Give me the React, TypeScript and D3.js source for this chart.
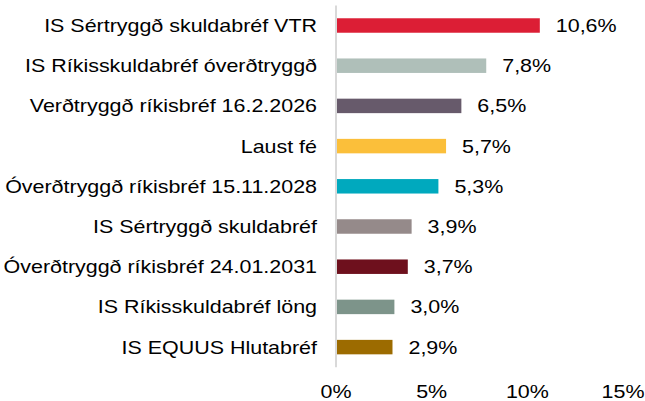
import React from 'react';
import * as d3 from 'd3';

// Categories, top to bottom
const categories = [
  'IS Sértryggð skuldabréf VTR',
  'IS Ríkisskuldabréf óverðtryggð',
  'Verðtryggð ríkisbréf 16.2.2026',
  'Laust fé',
  'Óverðtryggð ríkisbréf 15.11.2028',
  'IS Sértryggð skuldabréf',
  'Óverðtryggð ríkisbréf 24.01.2031',
  'IS Ríkisskuldabréf löng',
  'IS EQUUS Hlutabréf',
];
const values = [10.6, 7.8, 6.5, 5.7, 5.3, 3.9, 3.7, 3.0, 2.9];
const colors = ['#dc1e35', '#afbfb9', '#675a6b', '#fbbf3a', '#00a9be', '#958a8a', '#6e101d', '#7d948a', '#9c6b00'];
const xTicks = [0, 5, 10, 15];

function App() {
  const svgRef = React.useRef<SVGSVGElement>(null);

  const width = 645;
  const height = 401;
  const font = 'Liberation Sans, Arial, sans-serif';
  const fontSize = 18.5;
  const stretch = 1.16; // the source text is a bit wider than plain Arial

  React.useEffect(() => {
    const xScale = d3.scaleLinear().domain([0, 15]).range([337, 624]);
    const yScale = d3.scaleBand<string>()
      .domain(categories)
      .range([5.4, 367.2])
      .paddingInner(0.64)
      .paddingOuter(0.32);

    const svgEl = d3.select(svgRef.current);
    svgEl.selectAll('*').remove();
    const svg = svgEl.append('g');

    // bars
    svg.selectAll('.bar')
      .data(values)
      .enter()
      .append('rect')
      .attr('x', xScale(0))
      .attr('y', (d, i) => yScale(categories[i])!)
      .attr('width', (d) => xScale(d) - xScale(0))
      .attr('height', yScale.bandwidth())
      .attr('fill', (d, i) => colors[i]);

    // vertical axis line
    svg.append('line')
      .attr('x1', xScale(0) - 1)
      .attr('x2', xScale(0) - 1)
      .attr('y1', 5.4)
      .attr('y2', 367.2)
      .attr('stroke', '#d9d9d9')
      .attr('stroke-width', 2);

    // helper for stretched text
    const addText = (sel: any) => sel
      .attr('dy', '0.35em')
      .attr('font-family', font)
      .attr('font-size', fontSize)
      .attr('fill', '#000');

    // category labels
    addText(svg.selectAll('.cat')
      .data(categories)
      .enter()
      .append('text')
      .attr('transform', (d: string) => `translate(317,${yScale(d)! + yScale.bandwidth() / 2}) scale(${stretch},1)`)
      .attr('text-anchor', 'end'))
      .text((d: string) => d);

    // value labels
    addText(svg.selectAll('.val')
      .data(values)
      .enter()
      .append('text')
      .attr('transform', (d: number, i: number) =>
        `translate(${xScale(d) + 16},${yScale(categories[i])! + yScale.bandwidth() / 2}) scale(${stretch},1)`))
      .text((d: number) => d.toFixed(1).replace('.', ',') + '%');

    // x tick labels
    addText(svg.selectAll('.tick')
      .data(xTicks)
      .enter()
      .append('text')
      .attr('transform', (d: number) => `translate(${xScale(d) - 1},392) scale(${stretch},1)`)
      .attr('text-anchor', 'middle'))
      .text((d: number) => d + '%');
  }, []);

  return (
    <svg
      ref={svgRef}
      width={width}
      height={height}
      style={{ position: 'absolute', left: 0, top: 0, background: '#fff' }}
    />
  );
}

export default App;
